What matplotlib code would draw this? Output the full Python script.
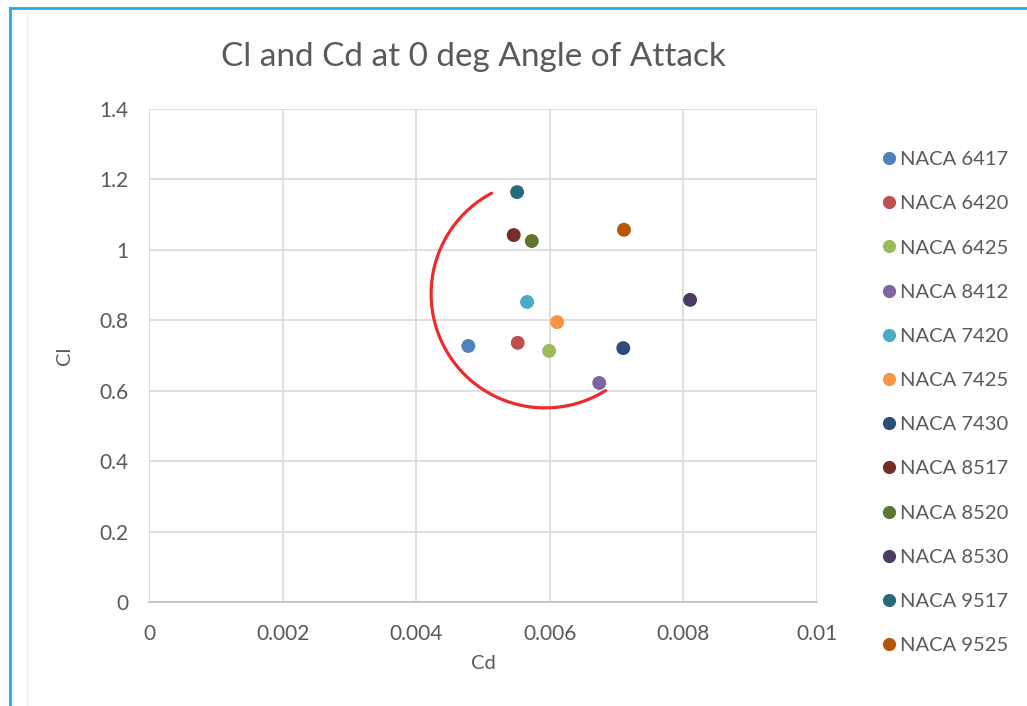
import numpy as np
import matplotlib
matplotlib.use("Agg")
import matplotlib.pyplot as plt
from matplotlib.lines import Line2D

plt.rcParams['font.family'] = ['Lato', 'DejaVu Sans']

# Airfoil sections and their lift / drag coefficients at 0 deg AoA
airfoils = ["NACA 6417", "NACA 6420", "NACA 6425", "NACA 8412", "NACA 7420",
            "NACA 7425", "NACA 7430", "NACA 8517", "NACA 8520", "NACA 8530",
            "NACA 9517", "NACA 9525"]
cd = [0.00478, 0.00552, 0.00599, 0.00674, 0.00566, 0.00611,
      0.00710, 0.00546, 0.00573, 0.00810, 0.00551, 0.00711]
cl = [0.727, 0.736, 0.713, 0.622, 0.852, 0.795,
      0.721, 1.042, 1.025, 0.858, 1.164, 1.057]
colors = ["#4F81BD", "#C0504D", "#9BBB59", "#8064A2", "#4BACC6", "#F79646",
          "#2C4D75", "#772C2A", "#5F7530", "#4D3B62", "#276A7C", "#B65708"]

x_ticks = [0, 0.002, 0.004, 0.006, 0.008, 0.01]
x_labels = ["0", "0.002", "0.004", "0.006", "0.008", "0.01"]
y_ticks = [0, 0.2, 0.4, 0.6, 0.8, 1, 1.2, 1.4]
y_labels = ["0", "0.2", "0.4", "0.6", "0.8", "1", "1.2", "1.4"]

W, H = 1027, 706
fig = plt.figure(figsize=(W / 100, H / 100), dpi=100)
fig.patch.set_facecolor("white")

ax = fig.add_axes([149 / W, 1 - 602 / H, (817 - 149) / W, (602 - 109) / H])
ax.set_xlim(0, 0.01)
ax.set_ylim(0, 1.4)

text_grey = "#595959"
grid_grey = "#d9d9d9"

for xi, yi, c, name in zip(cd, cl, colors, airfoils):
    ax.scatter([xi], [yi], s=100, color=c, edgecolors="none", zorder=3, label=name)

ax.set_xticks(x_ticks)
ax.set_xticklabels(x_labels)
ax.set_yticks(y_ticks)
ax.set_yticklabels(y_labels)
ax.tick_params(axis="both", length=0, labelsize=15, colors=text_grey)
ax.tick_params(axis="x", pad=16)
ax.tick_params(axis="y", pad=15)
ax.grid(True, color=grid_grey, linewidth=1.2, zorder=0)
ax.set_axisbelow(True)
for side in ["top", "right", "left"]:
    ax.spines[side].set_visible(False)
ax.spines["bottom"].set_color("#bfbfbf")
ax.spines["bottom"].set_linewidth(1.2)

ax.set_xlabel("Cd", fontsize=14.5, color=text_grey, labelpad=8)
ax.set_ylabel("Cl", fontsize=14.5, color=text_grey, labelpad=19)

fig.text(473 / W, 1 - 57 / H, "Cl and Cd at 0 deg Angle of Attack",
         fontsize=24, color=text_grey, ha="center", va="center")

# Hand-drawn red arc around the cluster of points (circular on screen)
px_x = 0.001 / 66.8   # data units per pixel along Cd
px_y = 0.2 / 70.4     # data units per pixel along Cl
arc_center = (0.00593, 0.875)
arc_radius_px = 114
t = np.radians(np.linspace(118, 302, 200))
ax.plot(arc_center[0] + arc_radius_px * px_x * np.cos(t),
        arc_center[1] + arc_radius_px * px_y * np.sin(t),
        color="#ee2b2b", linewidth=2.3, solid_capstyle="round", zorder=4)

handles = [Line2D([0], [0], marker="o", linestyle="none", markersize=9.5,
                  markerfacecolor=c, markeredgecolor="none") for c in colors]
leg = fig.legend(handles, airfoils, loc="upper left",
                 bbox_to_anchor=(870 / W, 1 - 143 / H), frameon=False,
                 fontsize=14.5, labelcolor=text_grey, handletextpad=0.0,
                 handlelength=1.1, labelspacing=1.345, borderaxespad=0)

# Outer frame lines
fig.add_artist(Line2D([10 / W, 10 / W], [0, 1 - 8 / H], transform=fig.transFigure,
                      color="#2aa8df", linewidth=2))
fig.add_artist(Line2D([10 / W, 1], [1 - 8 / H, 1 - 8 / H], transform=fig.transFigure,
                      color="#2aa8df", linewidth=2))
fig.add_artist(Line2D([27 / W, 27 / W], [0, 1 - 12 / H], transform=fig.transFigure,
                      color="#eeeeee", linewidth=1))

fig.savefig("out.png", dpi=100)
